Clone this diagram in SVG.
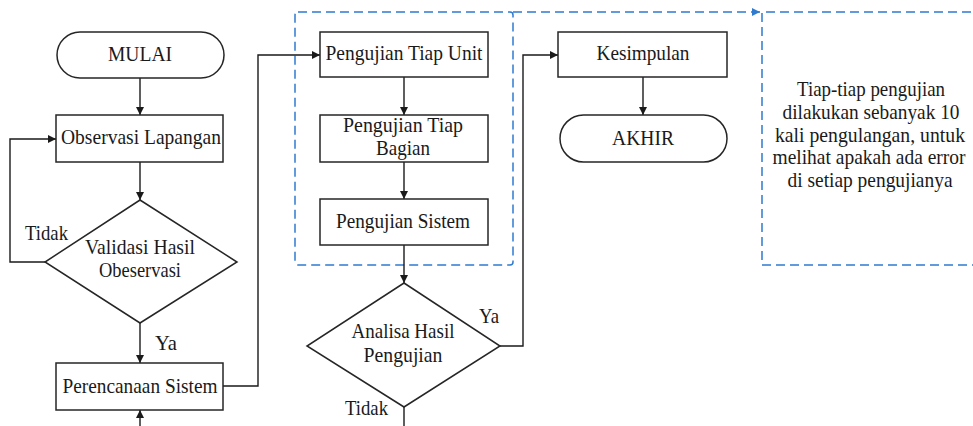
<svg xmlns="http://www.w3.org/2000/svg" width="973" height="426" viewBox="0 0 973 426" font-family="'Liberation Serif', serif">
  <defs>
    <marker id="arrow" viewBox="0 0 10 10" refX="10" refY="5" markerWidth="8" markerHeight="8" markerUnits="userSpaceOnUse" orient="auto">
      <path d="M0,0 L10,5 L0,10 z" fill="#1a1a1a"/>
    </marker>
    <marker id="arrow-blue" viewBox="0 0 10 10" refX="10" refY="5" markerWidth="8" markerHeight="8" markerUnits="userSpaceOnUse" orient="auto">
      <path d="M0,0 L10,5 L0,10 z" fill="#2e7bcf"/>
    </marker>
  </defs>
  <style>
    .box { fill: #ffffff; stroke: #262626; stroke-width: 1.5; }
    .line { fill: none; stroke: #1a1a1a; stroke-width: 1.4; }
    .dash { fill: none; stroke: #2e7bcf; stroke-width: 1.5; stroke-dasharray: 9 5; }
    .t { font-family: 'Liberation Serif', serif; font-size: 22px; fill: #1a1a1a; text-anchor: middle; }
    .n { font-size: 21px; }
    .lbl { text-anchor: start; }
  </style>
  <rect width="973" height="426" fill="#ffffff"/>

  <!-- dashed grouping frames -->
  <g id="frames">
    <rect class="dash" x="295" y="12" width="218" height="253" rx="3"/>
    <path class="dash" d="M513,12 L760,12" marker-end="url(#arrow-blue)"/>
    <path class="dash" d="M985,12 L762,12 L762,265 L985,265"/>
  </g>

  <!-- connectors -->
  <g id="connectors">
    <path class="line" d="M140,78 L140,115" marker-end="url(#arrow)"/>
    <path class="line" d="M140,162 L140,200" marker-end="url(#arrow)"/>
    <path class="line" d="M45,262 L10,262 L10,139 L56,139" marker-end="url(#arrow)"/>
    <path class="line" d="M140,323 L140,363" marker-end="url(#arrow)"/>
    <path class="line" d="M140,430 L140,410" marker-end="url(#arrow)"/>
    <path class="line" d="M223,386 L258,386 L258,55 L320,55" marker-end="url(#arrow)"/>
    <path class="line" d="M404,77 L404,115" marker-end="url(#arrow)"/>
    <path class="line" d="M404,162 L404,199" marker-end="url(#arrow)"/>
    <path class="line" d="M404,245 L404,283" marker-end="url(#arrow)"/>
    <path class="line" d="M500,346 L523,346 L523,55 L558,55" marker-end="url(#arrow)"/>
    <path class="line" d="M404,407 L404,430"/>
    <path class="line" d="M643,77 L643,115" marker-end="url(#arrow)"/>
    <text class="t lbl" x="25" y="240" textLength="43" lengthAdjust="spacingAndGlyphs">Tidak</text>
    <text class="t lbl" x="155" y="350" textLength="22" lengthAdjust="spacingAndGlyphs">Ya</text>
    <text class="t lbl" x="479" y="323" textLength="20" lengthAdjust="spacingAndGlyphs">Ya</text>
    <text class="t lbl" x="345" y="415" textLength="43" lengthAdjust="spacingAndGlyphs">Tidak</text>
  </g>

  <g id="mulai">
    <rect class="box" x="57" y="32" width="167" height="46" rx="23"/>
    <text class="t" x="140" y="61" textLength="64" lengthAdjust="spacingAndGlyphs">MULAI</text>
  </g>

  <g id="observasi">
    <rect class="box" x="56" y="115" width="167" height="47"/>
    <text class="t" x="141" y="144" textLength="160" lengthAdjust="spacingAndGlyphs">Observasi Lapangan</text>
  </g>

  <g id="validasi">
    <polygon class="box" points="140,200 237,262 140,323 45,262"/>
    <text class="t" x="140" y="254" textLength="110" lengthAdjust="spacingAndGlyphs">Validasi Hasil</text>
    <text class="t" x="140" y="277" textLength="82" lengthAdjust="spacingAndGlyphs">Obeservasi</text>
  </g>

  <g id="perencanaan">
    <rect class="box" x="56" y="363" width="167" height="47"/>
    <text class="t" x="140" y="393" textLength="155" lengthAdjust="spacingAndGlyphs">Perencanaan Sistem</text>
  </g>

  <g id="uji-unit">
    <rect class="box" x="320" y="32" width="168" height="45"/>
    <text class="t" x="404" y="60" textLength="157" lengthAdjust="spacingAndGlyphs">Pengujian Tiap Unit</text>
  </g>

  <g id="uji-bagian">
    <rect class="box" x="320" y="115" width="168" height="47"/>
    <text class="t" x="403" y="132" textLength="120" lengthAdjust="spacingAndGlyphs">Pengujian Tiap</text>
    <text class="t" x="403" y="155" textLength="54" lengthAdjust="spacingAndGlyphs">Bagian</text>
  </g>

  <g id="uji-sistem">
    <rect class="box" x="320" y="199" width="168" height="46"/>
    <text class="t" x="403" y="228" textLength="134" lengthAdjust="spacingAndGlyphs">Pengujian Sistem</text>
  </g>

  <g id="analisa">
    <polygon class="box" points="404,283 500,346 404,407 307,346"/>
    <text class="t" x="403" y="338" textLength="103" lengthAdjust="spacingAndGlyphs">Analisa Hasil</text>
    <text class="t" x="403" y="362" textLength="79" lengthAdjust="spacingAndGlyphs">Pengujian</text>
  </g>

  <g id="kesimpulan">
    <rect class="box" x="558" y="32" width="169" height="45"/>
    <text class="t" x="643" y="60" textLength="93" lengthAdjust="spacingAndGlyphs">Kesimpulan</text>
  </g>

  <g id="akhir">
    <rect class="box" x="560" y="115" width="167" height="47" rx="23.5"/>
    <text class="t" x="643" y="145" textLength="62" lengthAdjust="spacingAndGlyphs">AKHIR</text>
  </g>

  <g id="catatan">
    <text class="t n" x="871" y="96" textLength="148" lengthAdjust="spacingAndGlyphs">Tiap-tiap pengujian</text>
    <text class="t n" x="871" y="119" textLength="177" lengthAdjust="spacingAndGlyphs">dilakukan sebanyak 10</text>
    <text class="t n" x="870" y="142" textLength="190" lengthAdjust="spacingAndGlyphs">kali pengulangan, untuk</text>
    <text class="t n" x="869" y="164" textLength="193" lengthAdjust="spacingAndGlyphs">melihat apakah ada error</text>
    <text class="t n" x="870" y="187" textLength="165" lengthAdjust="spacingAndGlyphs">di setiap pengujianya</text>
  </g>
</svg>
